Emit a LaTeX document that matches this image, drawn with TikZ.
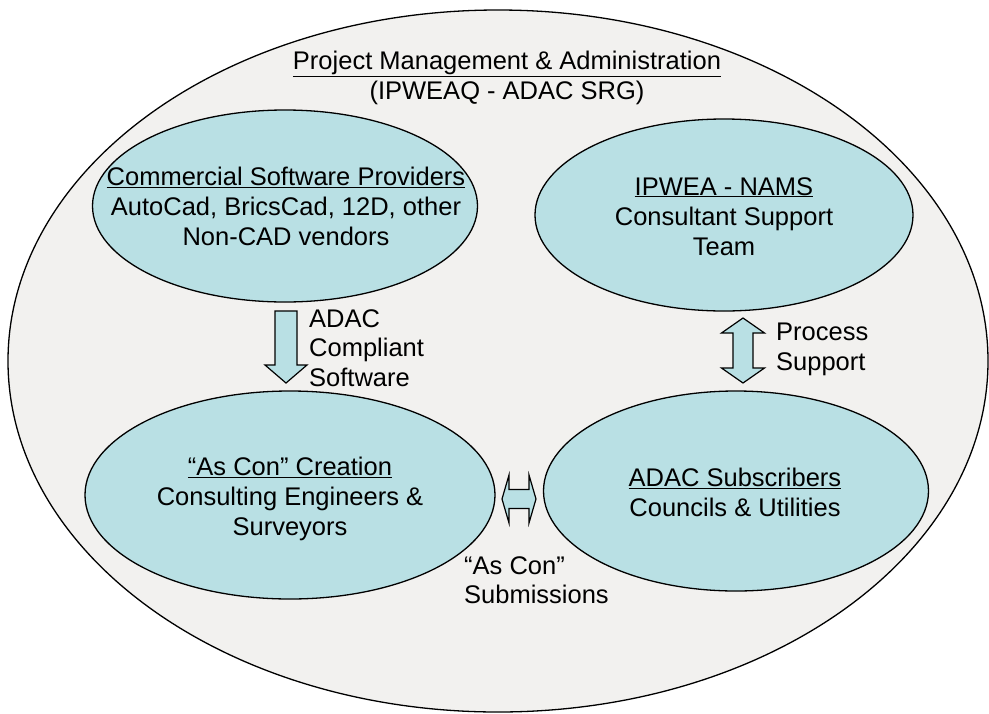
\documentclass[tikz,border=0pt]{standalone}
\usepackage{fontspec}
\setmainfont{Liberation Sans}
\usetikzlibrary{shapes.geometric}
\definecolor{bgfill}{RGB}{242,241,239}
\definecolor{cyanfill}{RGB}{185,224,228}
\begin{document}
\begin{tikzpicture}[x=1pt,y=-1pt,
  bigell/.style={ellipse, draw=black, line width=1.3pt, fill=bgfill, inner sep=0pt},
  ell/.style={ellipse, draw=black, line width=1.3pt, fill=cyanfill, inner sep=0pt},
  txt/.style={align=center, font=\fontsize{25.5}{30}\selectfont, inner sep=0pt, anchor=north},
  ltxt/.style={align=left, font=\fontsize{25.5}{29.5}\selectfont, inner sep=0pt, anchor=north west},
  blockarrow/.style={draw=black, line width=1.2pt, fill=cyanfill, line join=miter}]
\useasboundingbox (0,0) rectangle (989,713);
\node[bigell, minimum width=980pt, minimum height=702pt] (pm) at (498,361) {};
\node[txt] (pmt) at (507,51) {\underline{Project Management \& Administration}\\(IPWEAQ - ADAC SRG)};

\node[ell, minimum width=385pt, minimum height=192pt] (csp) at (285,206) {};
\node[ell, minimum width=378pt, minimum height=192pt] (nams) at (724,215) {};
\node[ell, minimum width=410pt, minimum height=208pt] (ascon) at (290,495) {};
\node[ell, minimum width=385pt, minimum height=200pt] (subs) at (736,491) {};

\node[txt] (csptxt) at (286,167) {\underline{Commercial Software Providers}\\AutoCad, BricsCad, 12D, other\\Non-CAD vendors};
\node[txt] (namstxt) at (724,177) {\underline{IPWEA - NAMS}\\Consultant Support\\Team};
\node[txt] (ascontxt) at (290,457) {\underline{“As Con” Creation}\\Consulting Engineers \&\\Surveyors};
\node[txt] (substxt) at (735,468) {\underline{ADAC Subscribers}\\Councils \& Utilities};

% down arrow
\draw[blockarrow] (275,311) -- (297,311) -- (297,365) -- (307,365) -- (286,383) -- (265,365) -- (275,365) -- cycle;
\node[ltxt] (lbl1) at (309,309) {ADAC\\Compliant\\Software};

% vertical double arrow
\draw[blockarrow] (743,318) -- (764.5,333) -- (753,333) -- (753,368) -- (764.5,368) -- (743,383) -- (721.5,368) -- (733,368) -- (733,333) -- (721.5,333) -- cycle;
\node[ltxt] (lbl2) at (776,323) {Process\\Support};

% horizontal double arrow
\draw[blockarrow] (502,499) -- (509,475) -- (509,489.5) -- (529,489.5) -- (529,475) -- (536,499) -- (529,523) -- (529,508.5) -- (509,508.5) -- (509,523) -- cycle;
\node[ltxt] (lbl3) at (464,556) {“As Con”\\Submissions};
\end{tikzpicture}
\end{document}
